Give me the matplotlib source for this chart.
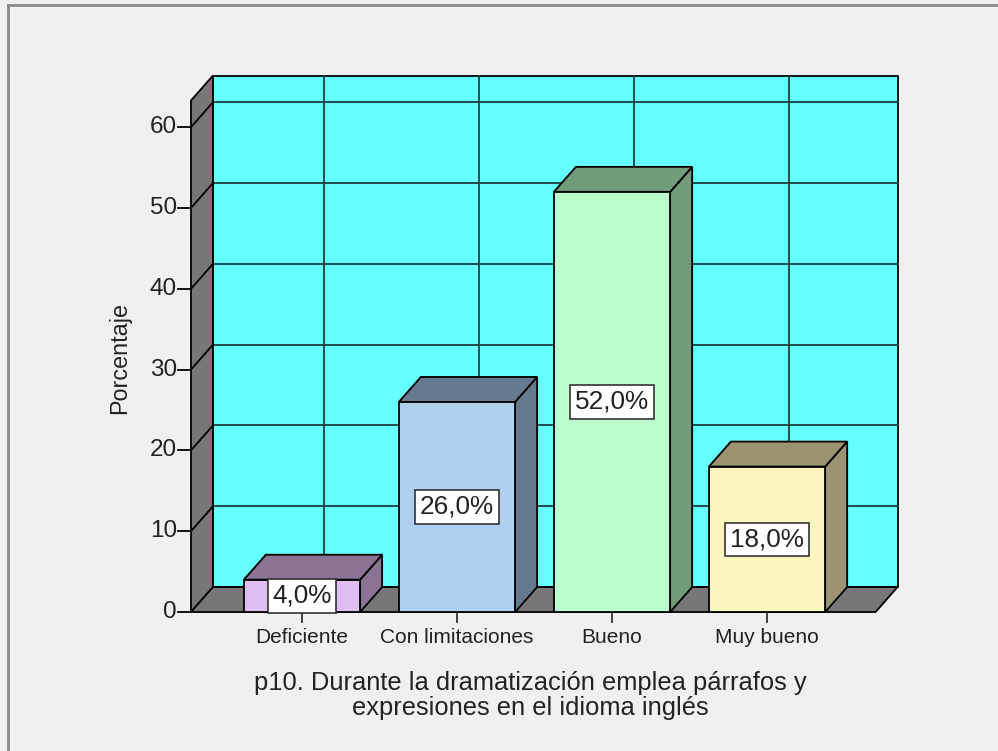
import matplotlib.pyplot as plt
from matplotlib.patches import Polygon

# data
categorias = ["Deficiente", "Con limitaciones", "Bueno", "Muy bueno"]
porcentajes = [4.0, 26.0, 52.0, 18.0]
etiquetas = ["4,0%", "26,0%", "52,0%", "18,0%"]
yticks = [0, 10, 20, 30, 40, 50, 60]
colores_frente = ["#e0bdf2", "#aed0ee", "#bbffcc", "#fbf6bd"]
colores_lado = ["#8a7394", "#66798e", "#709c7c", "#9a9472"]
titulo_x = "p10. Durante la dramatización emplea párrafos y\nexpresiones en el idioma inglés"

# geometry (data units)
x0, x1 = -0.716, 3.70      # front floor extent
ymax = 63.3
dx, dy = 0.142, 3.09       # depth offset
ancho = 0.75
fondo = "#f0f0f0"
cian = "#66ffff"
gris = "#777777"

plt.rcParams["font.family"] = ["Liberation Sans", "DejaVu Sans"]

fig = plt.figure(figsize=(9.98, 7.51), dpi=100, facecolor=fondo)
ax = fig.add_axes([0, 0, 1, 1])
ax.set_xlim(-1.948, 4.490)
ax.set_ylim(-17.2, 75.74)
ax.axis("off")

# outer frame (top and left edges visible)
ax.plot([8 / 998, 1], [1 - 5 / 751, 1 - 5 / 751], transform=ax.transAxes,
        color="#8a8a8a", lw=2, clip_on=False)
ax.plot([8 / 998, 8 / 998], [0, 1 - 5 / 751], transform=ax.transAxes,
        color="#8a8a8a", lw=2, clip_on=False)

lw = 1.3
# back wall
ax.add_patch(Polygon([(x0 + dx, dy), (x1 + dx, dy), (x1 + dx, ymax + dy), (x0 + dx, ymax + dy)],
                     closed=True, facecolor=cian, edgecolor="black", lw=lw, zorder=1))
for t in yticks[1:]:
    ax.plot([x0 + dx, x1 + dx], [t + dy, t + dy], color="#1f3f3f", lw=lw, zorder=2)
for i in range(len(categorias)):
    ax.plot([i + dx, i + dx], [dy, ymax + dy], color="#1f3f3f", lw=lw, zorder=2)

# left wall
ax.add_patch(Polygon([(x0, 0), (x0 + dx, dy), (x0 + dx, ymax + dy), (x0, ymax)],
                     closed=True, facecolor=gris, edgecolor="black", lw=lw, zorder=3))
for t in yticks[1:]:
    ax.plot([x0, x0 + dx], [t, t + dy], color="black", lw=lw, zorder=4)

# floor
ax.add_patch(Polygon([(x0, 0), (x1, 0), (x1 + dx, dy), (x0 + dx, dy)],
                     closed=True, facecolor=gris, edgecolor="black", lw=lw, zorder=3))

# y ticks
for t in yticks:
    ax.plot([x0 - 0.085, x0], [t, t], color="black", lw=lw, zorder=4)
    ax.text(x0 - 0.09, t, str(t), ha="right", va="center", fontsize=17.5, color="#222222")

# bars
for i, v in enumerate(porcentajes):
    l, r = i - ancho / 2, i + ancho / 2
    ax.add_patch(Polygon([(r, 0), (r + dx, dy), (r + dx, v + dy), (r, v)],
                         closed=True, facecolor=colores_lado[i], edgecolor="black", lw=lw, zorder=5))
    ax.add_patch(Polygon([(l, v), (r, v), (r + dx, v + dy), (l + dx, v + dy)],
                         closed=True, facecolor=colores_lado[i], edgecolor="black", lw=lw, zorder=5))
    ax.add_patch(Polygon([(l, 0), (r, 0), (r, v), (l, v)],
                         closed=True, facecolor=colores_frente[i], edgecolor="black", lw=lw, zorder=6))
    ax.text(i, v / 2, etiquetas[i], ha="center", va="center", fontsize=18.8, color="#222222", zorder=7,
            bbox=dict(boxstyle="square,pad=0.18", facecolor="white", edgecolor="#333333", lw=1.2))
    # x tick
    ax.plot([i, i], [0, -1.25], color="#333333", lw=lw, zorder=4)
    ax.text(i, -3.1, categorias[i], ha="center", va="center", fontsize=15, color="#222222")

ax.text(-1.174, 31.4, "Porcentaje", rotation=90, ha="center", va="center", fontsize=16.8, color="#222222")
ax.text(1.475, -10.3, titulo_x, ha="center", va="center", fontsize=18.4, color="#222222",
        linespacing=1.05)

fig.savefig("out.png", dpi=100, facecolor=fondo)
